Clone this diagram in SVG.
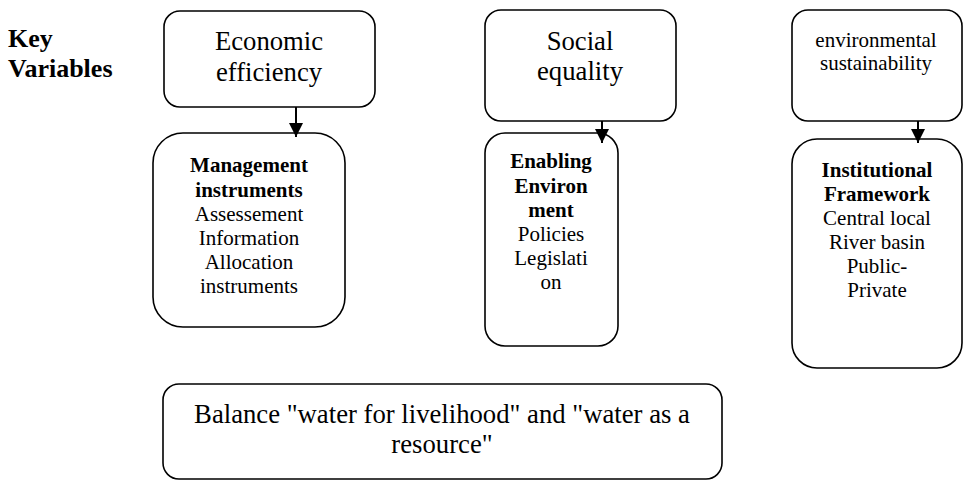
<svg xmlns="http://www.w3.org/2000/svg" width="964" height="481" viewBox="0 0 964 481">
<style>
.box{fill:#fff;stroke:#000;stroke-width:1.6}
.t{font-family:"Liberation Serif","Times New Roman",serif;fill:#000;text-anchor:middle}
.big{font-size:26.7px}
.med{font-size:21px}
.b{font-weight:bold}
.conn{stroke:#000;stroke-width:2;fill:none}
</style>
<defs>
<marker id="ah" viewBox="0 0 14 14" refX="14" refY="7" markerWidth="14" markerHeight="14" markerUnits="userSpaceOnUse" orient="auto">
<path d="M0,0 L14,7 L0,14 Z" fill="#000"/>
</marker>
</defs>
<g id="label-key">
<text class="t b" x="8" y="47" style="font-size:26px;text-anchor:start">Key</text>
<text class="t b" x="8" y="77" style="font-size:26px;text-anchor:start">Variables</text>
</g>
<g id="economic">
<rect class="box" x="164" y="11" width="211" height="96" rx="16"/>
<text class="t big" x="269" y="50">Economic</text>
<text class="t big" x="269" y="81">efficiency</text>
</g>
<g id="social">
<rect class="box" x="485" y="10" width="191" height="111" rx="16"/>
<text class="t big" x="580" y="50">Social</text>
<text class="t big" x="580" y="80">equality</text>
</g>
<g id="environmental">
<rect class="box" x="792" y="10" width="170" height="111" rx="16"/>
<text class="t med" x="876" y="47">environmental</text>
<text class="t med" x="876" y="70">sustainability</text>
</g>
<g id="management">
<rect class="box" x="153" y="133" width="192" height="194" rx="30"/>
<text class="t med b" x="249" y="172">Management</text>
<text class="t med b" x="249" y="197">instruments</text>
<text class="t med" x="249" y="221">Assessement</text>
<text class="t med" x="249" y="245">Information</text>
<text class="t med" x="249" y="269">Allocation</text>
<text class="t med" x="249" y="293">instruments</text>
</g>
<g id="enabling">
<rect class="box" x="485" y="133" width="133" height="213" rx="20"/>
<text class="t med b" x="551" y="168">Enabling</text>
<text class="t med b" x="551" y="193">Environ</text>
<text class="t med b" x="551" y="217">ment</text>
<text class="t med" x="551" y="241">Policies</text>
<text class="t med" x="551" y="265">Legislati</text>
<text class="t med" x="551" y="289">on</text>
</g>
<g id="institutional">
<rect class="box" x="792" y="139" width="170" height="229" rx="25"/>
<text class="t med b" x="877" y="177">Institutional</text>
<text class="t med b" x="877" y="201">Framework</text>
<text class="t med" x="877" y="225">Central local</text>
<text class="t med" x="877" y="249">River basin</text>
<text class="t med" x="877" y="273">Public-</text>
<text class="t med" x="877" y="297">Private</text>
</g>
<g id="balance">
<rect class="box" x="163" y="384" width="559" height="95" rx="16"/>
<text class="t big" x="442" y="423">Balance "water for livelihood" and "water as a</text>
<text class="t big" x="442" y="453">resource"</text>
</g>
<g id="connectors">
<line class="conn" x1="296" y1="107" x2="296" y2="137" marker-end="url(#ah)"/>
<line class="conn" x1="602" y1="121" x2="602" y2="143" marker-end="url(#ah)"/>
<line class="conn" x1="918" y1="121" x2="918" y2="143" marker-end="url(#ah)"/>
</g>
</svg>
